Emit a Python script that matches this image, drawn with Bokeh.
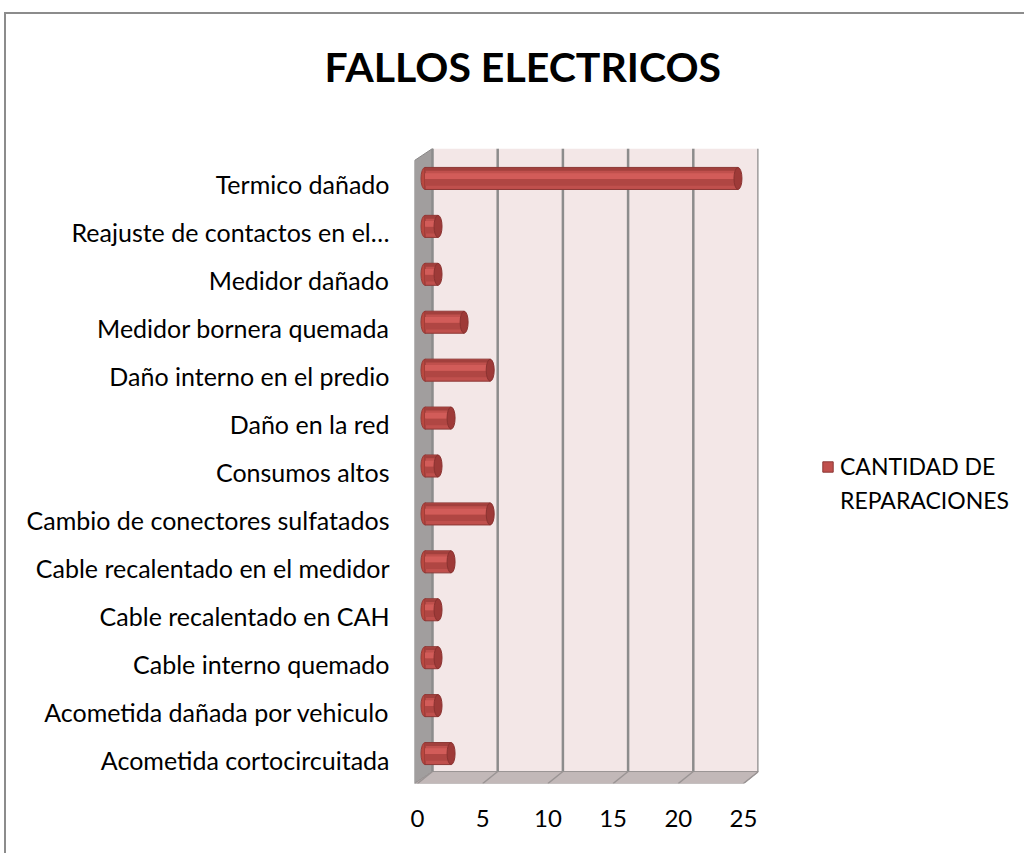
from bokeh.plotting import figure
from bokeh.models import FixedTicker, Legend, LegendItem, Range1d, Title
from bokeh.embed import file_html
from bokeh.resources import INLINE

# ---- data ----
categorias = [
    "Acometida cortocircuitada",
    "Acometida dañada por vehiculo",
    "Cable interno quemado",
    "Cable recalentado en CAH",
    "Cable recalentado en el medidor",
    "Cambio de conectores sulfatados",
    "Consumos altos",
    "Daño en la red",
    "Daño interno en el predio",
    "Medidor bornera quemada",
    "Medidor dañado",
    "Reajuste de contactos en el…",
    "Termico dañado",
]
reparaciones = [2, 1, 1, 1, 2, 5, 1, 2, 5, 3, 1, 1, 24]
x_ticks = [0, 5, 10, 15, 20, 25]
serie_l1 = "CANTIDAD DE"
serie_l2 = "REPARACIONES"
titulo = "FALLOS ELECTRICOS"

# ---- geometry of the pseudo-3D box (data units) ----
XMAX = 25
DX = 1.15      # depth offset in x
DY = 0.25      # depth offset in y
X0 = -0.23
X1 = 26.15
NCAT = len(categorias)
YB = -0.5
YT = NCAT - 0.5

p = figure(frame_width=344, frame_height=635, output_backend="svg", toolbar_location=None,
           x_range=Range1d(X0, X1), y_range=Range1d(YB, YT + DY),
           min_border_left=408, min_border_right=262,
           min_border_top=134, min_border_bottom=70)
p.outline_line_color = None
p.xgrid.visible = False
p.ygrid.visible = False
p.styles = {"border-left": "2px solid #8c8c8c", "border-top": "2px solid #8c8c8c",
            "margin-left": "4px", "margin-top": "12px"}

# spacer between the plot area and the title
p.add_layout(Title(text=" ", text_font_size="1px", standoff=55), "above")

# title
p.title.text = titulo
p.title.text_font = "Lato"
p.title.text_font_style = "bold"
p.title.text_font_size = "41px"
p.title.text_color = "#000000"
p.title.align = "left"
p.title.offset = -90
p.title.standoff = 0

# back wall
p.quad(left=[DX], right=[XMAX + DX], bottom=[YB + DY], top=[YT + DY],
       fill_color="#f3e7e7", line_color=None)
# left wall
p.patch([X0, X0, DX, DX], [YB, YT, YT + DY, YB + DY],
        fill_color="#a19e9e", line_color="#8a8888", line_width=1)
# floor
p.patch([X0, XMAX, XMAX + DX, DX], [YB, YB, YB + DY, YB + DY],
        fill_color="#c2b8b8", line_color="#9a9494", line_width=1)
# grid lines on the back wall
gx = [t + DX for t in x_ticks]
p.segment(x0=gx, y0=[YB + DY] * len(gx), x1=gx, y1=[YT + DY] * len(gx),
          line_color="#8c8c8c", line_width=2.5)
# grid lines on the floor
p.segment(x0=x_ticks, y0=[YB] * len(x_ticks), x1=gx, y1=[YB + DY] * len(gx),
          line_color="#9a9494", line_width=1.5)

# cylinders
yc = [i + DY / 2 for i in range(NCAT)]
right = [v + DX / 2 for v in reparaciones]
left = [DX / 2] * NCAT
BH = 0.46
p.ellipse(x=left, y=yc, width=8, height=22, width_units="screen", height_units="screen",
          fill_color="#b9483f", line_color="#9a3a37", line_width=1)
base = p.hbar(y=yc, left=left, right=right, height=BH,
              fill_color="#c0504d", line_color="#8c3836", line_width=1)
p.hbar(y=[y - 0.08 for y in yc], left=left, right=right, height=0.14,
       fill_color="#b04643", line_color=None)
p.hbar(y=[y + 0.05 for y in yc], left=left, right=right, height=0.12,
       fill_color="#d25c59", line_color=None)
p.hbar(y=[y + 0.19 for y in yc], left=left, right=right, height=0.06,
       fill_color="#a2403d", line_color=None)
p.ellipse(x=right, y=yc, width=8, height=22, width_units="screen", height_units="screen",
          fill_color="#9e3a38", line_color="#8a3230", line_width=1)
# invisible twin of the bars, used only for the legend's second text line
ghost = p.hbar(y=yc, left=left, right=right, height=BH,
               fill_alpha=0, line_alpha=0)

# axes
p.xaxis.ticker = FixedTicker(ticks=x_ticks)
p.yaxis.ticker = FixedTicker(ticks=list(range(NCAT)))
p.yaxis.major_label_overrides = {i: c for i, c in enumerate(categorias)}
for ax in (p.xaxis[0], p.yaxis[0]):
    ax.axis_line_color = None
    ax.major_tick_line_color = None
    ax.minor_tick_line_color = None
    ax.major_label_text_font = "Lato"
    ax.major_label_text_color = "#000000"
p.yaxis.major_label_text_font_size = "25px"
p.xaxis.major_label_text_font_size = "24px"
p.yaxis.major_label_standoff = 19
p.xaxis.major_label_standoff = 20

legend = Legend(items=[LegendItem(label=serie_l1, renderers=[base]),
                       LegendItem(label=serie_l2, renderers=[ghost])],
                location=(63, 269), border_line_color=None, background_fill_alpha=0,
                label_text_font="Lato", label_text_font_size="23px",
                label_text_color="#000000", spacing=6,
                glyph_width=13, glyph_height=13, padding=0, margin=0,
                label_standoff=6)
p.add_layout(legend, "right")

open("out.html", "w").write(file_html(p, INLINE))
